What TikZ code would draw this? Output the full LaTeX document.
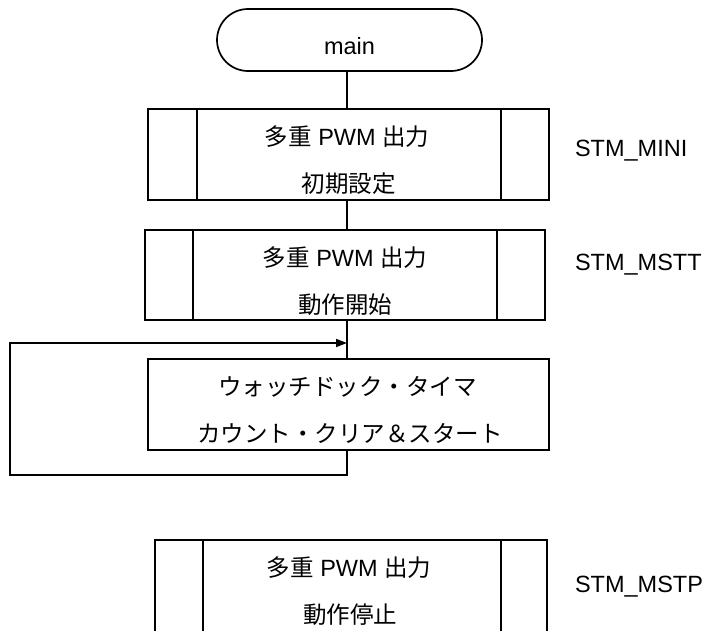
\documentclass[tikz,border=0pt]{standalone}
\usepackage{fontspec}
\setmainfont{Liberation Sans}
\newfontfamily\jp{Noto Sans CJK JP}
\usetikzlibrary{arrows.meta}
\begin{document}
\begin{tikzpicture}[x=1pt,y=-1pt,line width=1.7pt,
  every node/.style={inner sep=0pt,outer sep=0pt,font=\fontsize{23.5}{28}\selectfont},
  frame/.style={draw,line width=1.7pt,minimum width=#1},
  terminal/.style={draw,line width=1.7pt,rounded corners=31pt,minimum width=265pt,minimum height=62pt},
  label/.style={anchor=base west},
  tip/.style={-{Triangle[length=11pt,width=8pt]}}]
\clip (0,0) rectangle (710,630);
\fill[white] (0,0) rectangle (710,630);
\coordinate (cx) at (347,0);
% terminal
\node[terminal] (main) at (349.5,40) {};
\node (mtext) at (349.5,46) {main};
% box 1
\node[frame=401pt,minimum height=91pt] (b1) at (348.5,154.5) {};
\draw ([xshift=49pt]b1.north west) -- ([xshift=49pt]b1.south west);
\draw ([xshift=-48pt]b1.north east) -- ([xshift=-48pt]b1.south east);
\node (b1a) at (347,136.5) {{\jp 多重} PWM {\jp 出力}};
\node (b1b) at (348.5,183.5) {\jp 初期設定};
\node[label] (l1) at (575,156.5) {STM\_MINI};
% box 2
\node[frame=400pt,minimum height=90pt] (b2) at (345,275) {};
\draw ([xshift=48pt]b2.north west) -- ([xshift=48pt]b2.south west);
\draw ([xshift=-48pt]b2.north east) -- ([xshift=-48pt]b2.south east);
\node (b2a) at (345,257.5) {{\jp 多重} PWM {\jp 出力}};
\node (b2b) at (345,304.5) {\jp 動作開始};
\node[label] (l2) at (575,270.5) {STM\_MSTT};
% box 3
\node[frame=401pt,minimum height=91pt] (b3) at (348.5,404.5) {};
\node (b3a) at (347.5,386.5) {\jp ウォッチドック・タイマ};
\node (b3b) at (350,433.5) {\jp カウント・クリア＆スタート};
% box 4
\node[frame=392pt,minimum height=140pt] (b4) at (351,610) {};
\draw ([xshift=48pt]b4.north west) -- ([xshift=48pt]b4.south west);
\draw ([xshift=-46pt]b4.north east) -- ([xshift=-46pt]b4.south east);
\node (b4a) at (349,567.5) {{\jp 多重} PWM {\jp 出力}};
\node (b4b) at (350,614.5) {\jp 動作停止};
\node[label] (l4) at (575,592.5) {STM\_MSTP};
% connectors
\coordinate (lp) at (10,475);
\coordinate (ar) at (347,343);
\draw (cx |- main.south) -- (cx |- b1.north);
\draw (cx |- b1.south) -- (cx |- b2.north);
\draw (cx |- b2.south) -- (cx |- b3.north);
\draw[tip] (cx |- b3.south) -- (cx |- lp) -- (lp) -- (lp |- ar) -- (ar);
\end{tikzpicture}
\end{document}
